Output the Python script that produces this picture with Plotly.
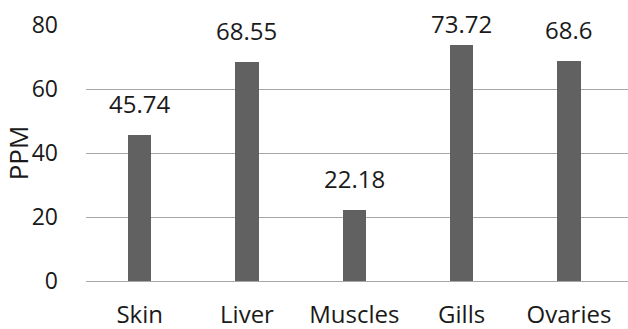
import plotly.graph_objects as go

tissues = ["Skin", "Liver", "Muscles", "Gills", "Ovaries"]
ppm = [45.74, 68.55, 22.18, 73.72, 68.6]
value_labels = ["45.74", "68.55", "22.18", "73.72", "68.6"]
y_ticks = [0, 20, 40, 60, 80]

font_family = "Open Sans, Noto Sans, sans-serif"
text_color = "#1a1a1a"

Y_MAX = 80
PLOT_TOP = 25
PLOT_BOTTOM = 329 - 48
px_per_unit = (PLOT_BOTTOM - PLOT_TOP) / Y_MAX

fig = go.Figure(
    go.Bar(
        x=tissues,
        y=ppm,
        marker=dict(color="#616161", line=dict(width=0)),
        width=0.215,
        hoverinfo="x+y",
    )
)

# value labels above each bar, pulled down when they would leave the chart
for name, val, lab in zip(tissues, ppm, value_labels):
    room = (Y_MAX - val) * px_per_unit - 17
    fig.add_annotation(
        x=name, y=val, text=lab, showarrow=False,
        yanchor="bottom", yshift=min(13, room),
        font=dict(family=font_family, size=24, color=text_color),
    )

fig.update_layout(
    width=628, height=329,
    margin=dict(l=86, r=0, t=PLOT_TOP, b=48),
    paper_bgcolor="white", plot_bgcolor="white",
    showlegend=False,
    bargap=0,
    font=dict(family=font_family, size=24, color=text_color),
)
fig.update_xaxes(
    range=[-0.5, 4.55],
    showgrid=False, showline=False, zeroline=False,
    ticks="outside", ticklen=12, tickcolor="rgba(0,0,0,0)",
    tickfont=dict(size=24), automargin=False,
)
fig.update_yaxes(
    range=[0, Y_MAX], tickvals=y_ticks,
    showgrid=True, gridcolor="#A6A6A6", gridwidth=1.3,
    zeroline=True, zerolinecolor="#A6A6A6", zerolinewidth=1.3,
    showline=False, ticklabelstandoff=27,
    tickfont=dict(size=23), automargin=False,
    title=dict(text="PPM", font=dict(size=26), standoff=2),
)

fig.write_html("out.html")
